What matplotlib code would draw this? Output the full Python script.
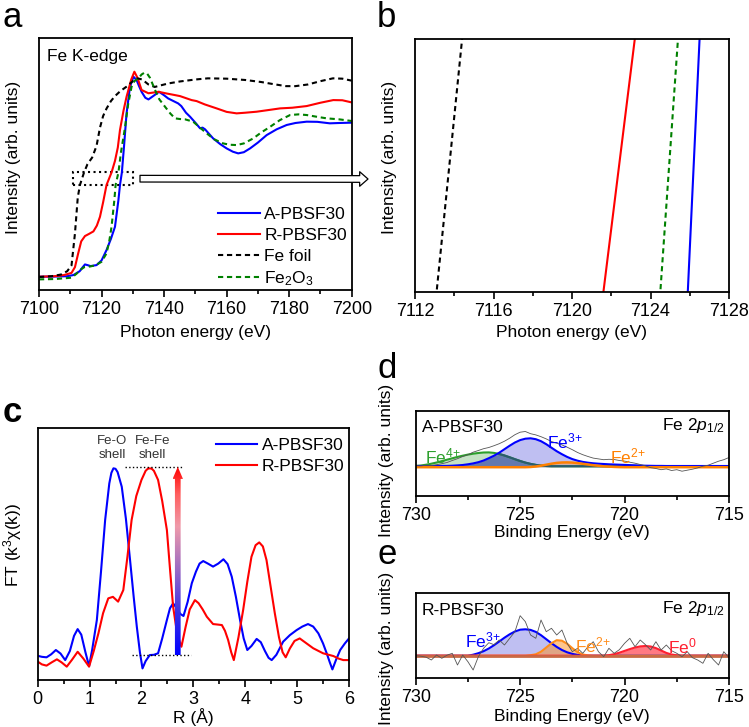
import numpy as np
import matplotlib
matplotlib.use('Agg')
import matplotlib.pyplot as plt
from matplotlib.patches import Rectangle, Polygon
from matplotlib.colors import LinearSegmentedColormap
from matplotlib.ticker import MultipleLocator

plt.rcParams['font.family'] = ['Liberation Sans', 'DejaVu Sans']
plt.rcParams['mathtext.fontset'] = 'custom'
plt.rcParams['mathtext.rm'] = 'Liberation Sans'
plt.rcParams['mathtext.it'] = 'Liberation Sans:italic'
plt.rcParams['mathtext.bf'] = 'Liberation Sans:bold'

# ---- panel a/b : Fe K-edge XANES (normalised) ----
A_e = [7100, 7105, 7109, 7111, 7113, 7114, 7114.7, 7115.5, 7116.5, 7118.4, 7120, 7121.6, 7123, 7124.3, 7125.4,
       7125.9, 7126.5, 7127.2, 7128, 7129.1, 7130.2, 7131.2, 7132, 7132.8, 7134, 7135, 7136.5, 7138.4, 7140, 7141.3,
       7143, 7144.5, 7145.5, 7147, 7148.3, 7150, 7151.5, 7152.3, 7153.1, 7154.5, 7155.7, 7158, 7160, 7162, 7163.7,
       7165.5, 7167.5, 7170, 7172.8, 7176, 7179.2, 7182, 7185.6, 7189, 7193, 7196, 7200]
A_i = [0.002, 0.003, 0.005, 0.012, 0.035, 0.06, 0.076, 0.072, 0.066, 0.072, 0.10, 0.163, 0.23, 0.303, 0.464,
       0.555, 0.63, 0.79, 0.986, 1.146, 1.207, 1.187, 1.15, 1.116, 1.08, 1.07, 1.09, 1.116, 1.095, 1.076,
       1.06, 1.046, 1.03, 0.99, 0.966, 0.93, 0.896, 0.9, 0.89, 0.86, 0.835, 0.80, 0.775, 0.755, 0.745,
       0.752, 0.775, 0.81, 0.855, 0.89, 0.916, 0.928, 0.936, 0.935, 0.926, 0.928, 0.93]

R_e = [7100, 7105, 7108, 7110.4, 7111.5, 7112.5, 7113.5, 7114.7, 7116, 7117.4, 7118.5, 7119.5, 7120.5, 7121.6, 7123.2,
       7124.3, 7125.2, 7125.9, 7127, 7128, 7129.5, 7130.5, 7131.5, 7132.8, 7135, 7138.2, 7141, 7143.5, 7145.1, 7148.8,
       7150.4, 7153, 7156.8, 7160, 7163.2, 7166, 7169.6, 7173, 7177.1, 7181, 7185.6, 7190, 7194.1, 7197, 7200]
R_i = [0.002, 0.005, 0.012, 0.025, 0.06, 0.14, 0.215, 0.247, 0.26, 0.275, 0.31, 0.363, 0.45, 0.555, 0.63,
       0.70, 0.78, 0.886, 1.0, 1.086, 1.19, 1.237, 1.2, 1.127, 1.107, 1.116, 1.105, 1.096, 1.09, 1.066,
       1.06, 1.04, 1.016, 0.995, 0.986, 0.99, 0.996, 1.005, 1.016, 1.02, 1.03, 1.05, 1.066, 1.065, 1.052]

F_e = [7100, 7104, 7107, 7109, 7110.4, 7111.5, 7112.4, 7113.1, 7114.4, 7115.5, 7117, 7118.4, 7119.5, 7120.5, 7121.6,
       7123, 7124.3, 7126, 7128, 7130, 7131.5, 7133, 7135, 7137, 7139, 7141.3, 7145, 7150, 7154, 7160,
       7166, 7171, 7175, 7179, 7182, 7186, 7190, 7194, 7197, 7200]
F_i = [0.0, 0.005, 0.015, 0.035, 0.07, 0.263, 0.48, 0.555, 0.63, 0.68, 0.72, 0.79, 0.90, 0.97, 1.015,
       1.06, 1.09, 1.12, 1.147, 1.18, 1.197, 1.19, 1.16, 1.145, 1.155, 1.166, 1.178, 1.19, 1.197, 1.195,
       1.187, 1.175, 1.162, 1.15, 1.15, 1.16, 1.18, 1.197, 1.195, 1.183]

G_e = [7100, 7105, 7110.4, 7112, 7113.1, 7114.5, 7115.8, 7118, 7120, 7121.6, 7122.5, 7123.2, 7124.1, 7124.5, 7125.4,
       7126.2, 7127.5, 7128.5, 7129.6, 7130.5, 7131.8, 7132.8, 7133.7, 7134.6, 7135.5, 7137.1, 7138.5, 7140.3, 7142, 7143.5,
       7145, 7146.7, 7149.3, 7151.5, 7153.6, 7156, 7158.9, 7161, 7163.2, 7165.5, 7168.5, 7171, 7173.9, 7177, 7180.3,
       7183, 7185.6, 7189, 7192, 7196, 7200]
G_i = [-0.014, -0.012, -0.004, 0.02, 0.042, 0.06, 0.062, 0.07, 0.092, 0.143, 0.22, 0.303, 0.464, 0.555, 0.63,
       0.75, 0.90, 1.04, 1.146, 1.18, 1.197, 1.22, 1.231, 1.225, 1.2, 1.127, 1.07, 1.026, 0.985, 0.956,
       0.952, 0.95, 0.936, 0.90, 0.866, 0.83, 0.805, 0.797, 0.795, 0.805, 0.835, 0.87, 0.905, 0.945, 0.976,
       0.98, 0.976, 0.965, 0.956, 0.95, 0.94]

zoom_e = (7112, 7128)
zoom_i = (0.555, 0.63)

# ---- panel c : FT-EXAFS ----
cR_A = [0.00, 0.08, 0.17, 0.26, 0.35, 0.44, 0.53, 0.62, 0.70, 0.77, 0.84, 0.92, 0.99, 1.05, 1.14, 1.22, 1.30, 1.38,
        1.42, 1.46, 1.50, 1.54, 1.62, 1.70, 1.78, 1.85, 1.91, 1.97, 2.02, 2.08, 2.16, 2.24, 2.32, 2.40, 2.49, 2.55,
        2.61, 2.68, 2.75, 2.81, 2.89, 2.97, 3.05, 3.12, 3.19, 3.28, 3.38, 3.48, 3.58, 3.66, 3.74, 3.82, 3.90, 3.97,
        4.04, 4.12, 4.22, 4.30, 4.38, 4.45, 4.51, 4.60, 4.73, 4.86, 4.99, 5.10, 5.21, 5.31, 5.41, 5.50, 5.57, 5.63,
        5.68, 5.75, 5.83, 5.92, 6.00]
cFT_A = [0.96, 0.92, 0.90, 1.02, 1.19, 1.05, 0.79, 1.15, 1.75, 2.02, 1.80, 1.10, 0.55, 1.20, 2.38, 4.30, 6.35, 7.80,
         8.22, 8.40, 8.38, 8.25, 7.67, 6.40, 4.76, 3.30, 2.12, 1.10, 0.46, 0.75, 0.99, 1.00, 1.06, 1.65, 2.38, 2.85,
         3.04, 2.85, 2.62, 2.54, 3.10, 3.84, 4.30, 4.62, 4.72, 4.62, 4.50, 4.62, 4.79, 4.60, 4.10, 3.30, 2.38, 1.65,
         1.19, 1.35, 1.63, 1.50, 1.15, 0.88, 0.79, 1.00, 1.52, 1.78, 1.98, 2.12, 2.22, 2.12, 1.85, 1.45, 1.06, 0.70,
         0.42, 0.80, 1.19, 1.45, 1.65]
cR_R = [0.00, 0.08, 0.17, 0.27, 0.37, 0.46, 0.56, 0.66, 0.77, 0.88, 0.99, 1.08, 1.17, 1.26, 1.36, 1.45, 1.55, 1.65,
        1.73, 1.81, 1.90, 2.00, 2.08, 2.12, 2.16, 2.20, 2.24, 2.32, 2.40, 2.49, 2.55, 2.61, 2.69, 2.77, 2.85, 2.93,
        3.03, 3.10, 3.18, 3.26, 3.38, 3.47, 3.55, 3.61, 3.67, 3.73, 3.78, 3.87, 3.96, 4.04, 4.12, 4.20, 4.27, 4.34,
        4.41, 4.49, 4.57, 4.65, 4.72, 4.78, 4.86, 4.95, 5.05, 5.15, 5.31, 5.50, 5.70, 5.80, 5.89, 6.00]
cFT_R = [0.73, 0.62, 0.57, 0.70, 0.82, 0.70, 0.53, 0.80, 1.12, 0.85, 0.53, 1.15, 1.85, 2.65, 3.24, 3.30, 3.11, 3.57,
         4.90, 6.35, 7.30, 7.94, 8.30, 8.38, 8.40, 8.38, 8.30, 7.94, 7.10, 5.95, 4.40, 2.91, 1.80, 1.32, 2.10, 2.80,
         3.17, 3.05, 2.80, 2.51, 2.22, 2.20, 2.18, 1.95, 1.59, 1.10, 0.79, 1.70, 2.78, 3.90, 4.89, 5.35, 5.46, 5.30,
         4.76, 3.70, 2.65, 1.70, 1.10, 0.90, 1.25, 1.55, 1.65, 1.50, 1.26, 1.06, 0.95, 0.85, 0.79, 0.79]

# ---- panels d/e : XPS Fe 2p1/2 ----
be_step = 0.25
d_raw = [0.10, 0.08, 0.14, 0.12, 0.20, 0.30, 0.42, 0.62, 0.80, 1.02, 1.20, 1.45, 1.62, 1.80, 1.92, 2.10,
         2.30, 2.55, 2.85, 3.20, 3.45, 3.52, 3.30, 3.18, 3.00, 2.78, 2.52, 2.35, 2.18, 1.95, 1.70, 1.42,
         1.20, 1.02, 0.86, 0.78, 0.70, 0.74, 0.72, 0.62, 0.56, 0.45, 0.35, 0.22, 0.08, -0.10, -0.18, -0.30,
         -0.22, -0.38, -0.30, -0.45, -0.35, -0.25, -0.12, 0.05, 0.15, 0.35, 0.55, 0.70, 0.92]
d_fe3 = [0.07, 0.07, 0.07, 0.07, 0.07, 0.08, 0.08, 0.10, 0.13, 0.17, 0.24, 0.33, 0.45, 0.62, 0.85, 1.10,
         1.40, 1.75, 2.10, 2.42, 2.66, 2.80, 2.84, 2.75, 2.55, 2.25, 1.90, 1.55, 1.25, 0.98, 0.76, 0.60,
         0.48, 0.40, 0.34, 0.30, 0.27, 0.24, 0.22, 0.20, 0.18, 0.16, 0.14, 0.12, 0.10, 0.09, 0.08, 0.08,
         0.07, 0.07, 0.07, 0.07, 0.07, 0.07, 0.07, 0.07, 0.07, 0.07, 0.07, 0.07, 0.07]
d_fe4 = [0.08, 0.12, 0.20, 0.30, 0.42, 0.56, 0.70, 0.84, 0.98, 1.10, 1.21, 1.30, 1.37, 1.42, 1.43, 1.38,
         1.27, 1.12, 0.94, 0.75, 0.57, 0.41, 0.28, 0.18, 0.11, 0.07, 0.05, 0.05, 0.05, 0.05, 0.05, 0.05,
         0.05, 0.05, 0.05, 0.05, 0.05, 0.05, 0.05, 0.05, 0.05, 0.05, 0.05, 0.05, 0.05, 0.05, 0.05, 0.05,
         0.05, 0.05, 0.05, 0.05, 0.05, 0.05, 0.05, 0.05, 0.05, 0.05, 0.05, 0.05, 0.05]
d_fe2 = [-0.05, -0.05, -0.05, -0.05, -0.05, -0.05, -0.05, -0.05, -0.05, -0.05, -0.05, -0.05, -0.05, -0.05, -0.05, -0.05,
         -0.05, -0.05, -0.05, -0.05, -0.05, -0.05, -0.03, 0.02, 0.10, 0.20, 0.30, 0.38, 0.42, 0.43, 0.41, 0.36,
         0.29, 0.22, 0.15, 0.09, 0.04, 0.01, -0.02, -0.04, -0.05, -0.05, -0.05, -0.05, -0.05, -0.05, -0.05, -0.05,
         -0.05, -0.05, -0.05, -0.05, -0.05, -0.05, -0.05, -0.05, -0.05, -0.05, -0.05, -0.05, -0.05]

e_raw = [0.00, -0.05, -0.15, -0.43, 0.07, -0.26, 0.05, 0.24, -0.93, 0.07, -0.60, -1.43, -0.10, 0.74, 1.30, 1.10,
         1.57, 1.07, 1.74, 2.40, 4.00, 3.40, 2.07, 1.74, 3.57, 2.40, 2.74, 2.07, 2.57, 1.24, 0.40, 0.74,
         0.24, 0.90, 1.40, 0.40, -0.10, 0.74, 0.24, 0.60, 1.24, 1.74, 0.90, 1.57, 1.10, 0.57, 1.40, 0.57,
         1.07, 0.50, 0.24, -0.10, 0.40, -0.20, -0.43, -0.76, 0.24, -0.40, -0.93, 0.40, -0.20]
e_fe3 = [0, 0, 0, 0, 0, 0, 0, 0, 0, 0, 0, 0.10, 0.25, 0.45, 0.72, 1.05,
         1.42, 1.80, 2.14, 2.42, 2.60, 2.64, 2.58, 2.38, 2.05, 1.65, 1.25, 0.88, 0.57, 0.34, 0.18, 0.08,
         0.02, 0, 0, 0, 0, 0, 0, 0, 0, 0, 0, 0, 0, 0, 0, 0,
         0, 0, 0, 0, 0, 0, 0, 0, 0, 0, 0, 0, 0]
e_fe2 = [0, 0, 0, 0, 0, 0, 0, 0, 0, 0, 0, 0, 0, 0, 0, 0,
         0, 0, 0, 0, 0, 0, 0.05, 0.14, 0.40, 0.82, 1.25, 1.55, 1.50, 1.20, 0.75, 0.35,
         0.12, 0.03, 0, 0, 0, 0, 0, 0, 0, 0, 0, 0, 0, 0, 0, 0,
         0, 0, 0, 0, 0, 0, 0, 0, 0, 0, 0, 0, 0]
e_fe0 = [0, 0, 0, 0, 0, 0, 0, 0, 0, 0, 0, 0, 0, 0, 0, 0,
         0, 0, 0, 0, 0, 0, 0, 0, 0, 0, 0, 0, 0, 0, 0, 0,
         0, 0, 0, 0, 0, 0.05, 0.15, 0.30, 0.48, 0.66, 0.82, 0.93, 0.97, 0.92, 0.76, 0.52,
         0.28, 0.12, 0.04, 0, 0, 0, 0, 0, 0, 0, 0, 0, 0]

W, H = 749, 727
fig = plt.figure(figsize=(W / 100, H / 100), dpi=100)


def add_ax(l, t, r, b):
    return fig.add_axes([l / W, 1 - b / H, (r - l) / W, (b - t) / H])


def style(ax, major, minor):
    for s in ax.spines.values():
        s.set_linewidth(1.3)
    ax.set_yticks([])
    ax.xaxis.set_major_locator(MultipleLocator(major))
    ax.xaxis.set_minor_locator(MultipleLocator(minor))
    ax.tick_params(axis='x', which='major', direction='out', length=5, width=1.2, labelsize=13, pad=3)
    ax.tick_params(axis='x', which='minor', direction='out', length=3, width=1.2)


def label(x, y, s, rot=0, size=12.5):
    fig.text(x / W, 1 - y / H, s, rotation=rot, ha='center', va='center', fontsize=size)


dash = (0, (2.5, 1.8))
xanes = [(A_e, A_i, '#0000ff', '-', 'A-PBSF30'),
         (R_e, R_i, '#ff0000', '-', 'R-PBSF30'),
         (F_e, F_i, 'black', dash, 'Fe foil'),
         (G_e, G_i, '#008000', dash, 'Fe$_2$O$_3$')]

# panel a
ax_a = add_ax(39, 38, 351.7, 289.5)
for xe, yi, c, ls, lab in xanes:
    ax_a.plot(xe, yi, color=c, ls=ls, lw=1.5, label=lab)
ax_a.set_xlim(7100, 7200)
ax_a.set_ylim(-0.075, 1.44)
style(ax_a, 20, 10)
ax_a.text(0.025, 0.925, 'Fe K-edge', transform=ax_a.transAxes, fontsize=12.5, va='center')
ax_a.legend(loc='lower right', bbox_to_anchor=(0.985, 0.005), frameon=False, fontsize=12.5,
            handlelength=2.4, handletextpad=0.25, labelspacing=0.33, borderpad=0, borderaxespad=0)
ax_a.add_patch(Rectangle((7111, zoom_i[0]), 19, zoom_i[1] - zoom_i[0], fill=False, ls=':', lw=1.5, ec='black'))
ax_a.annotate('', xy=(368 / W, 1 - 179 / H), xycoords='figure fraction',
              xytext=(7132.3, np.mean(zoom_i)), textcoords='data',
              arrowprops=dict(arrowstyle='simple,head_length=0.4,head_width=0.7,tail_width=0.32',
                              fc='white', ec='black', lw=0.9, shrinkA=0, shrinkB=0, mutation_scale=15),
              annotation_clip=False)

# panel b (zoom of the box)
ax_b = add_ax(415, 39, 729, 292)
for xe, yi, c, ls, lab in xanes:
    ax_b.plot(xe, yi, color=c, ls=ls, lw=1.5)
ax_b.set_xlim(*zoom_e)
ax_b.set_ylim(*zoom_i)
style(ax_b, 4, 2)

# panel c
ax_c = add_ax(37.7, 428, 349, 680)
ax_c.plot(cR_A, cFT_A, color='#0000ff', lw=1.5, label='A-PBSF30')
ax_c.plot(cR_R, cFT_R, color='#ff0000', lw=1.5, label='R-PBSF30')
top = max(cFT_R) + 0.06
bot = 0.99
ax_c.plot([1.68, 2.81], [top, top], ls=':', color='black', lw=1)
ax_c.plot([1.82, 2.95], [bot, bot], ls=':', color='black', lw=1)
x0, hw, hh, hl = 2.70, 0.055, 0.10, 0.48
arrow = Polygon([(x0 - hw, bot), (x0 + hw, bot), (x0 + hw, top - hl), (x0 + hh, top - hl), (x0, top),
                 (x0 - hh, top - hl), (x0 - hw, top - hl)], closed=True, fc='none', ec='none')
ax_c.add_patch(arrow)
cmap = LinearSegmentedColormap.from_list('arr', [(0, '#0000ff'), (0.22, '#3a30e8'), (0.45, '#9a6ac4'),
                                                  (0.68, '#ef9aaa'), (0.85, '#ff6060'), (1, '#ff0000')])
grad = np.linspace(0, 1, 256).reshape(-1, 1)
im = ax_c.imshow(grad, cmap=cmap, extent=(x0 - hh, x0 + hh, bot, top), origin='lower', aspect='auto', zorder=5)
im.set_clip_path(arrow)
ax_c.set_xlim(0, 6)
ax_c.set_ylim(0, 10)
style(ax_c, 1, 0.5)
ax_c.text(1.44, 9.2, 'Fe-O\nshell', ha='center', va='center', fontsize=9.5, color='#333333', linespacing=1.15)
ax_c.text(2.21, 9.2, 'Fe-Fe\nshell', ha='center', va='center', fontsize=9.5, color='#333333', linespacing=1.15)
ax_c.legend(loc='upper right', bbox_to_anchor=(0.985, 0.96), frameon=False, fontsize=12.5,
            handlelength=2.4, handletextpad=0.25, labelspacing=0.3, borderpad=0, borderaxespad=0)

# panel d
be_d = 730 - be_step * np.arange(len(d_raw))
ax_d = add_ax(415.7, 410.7, 729, 496)
ax_d.fill_between(be_d, 0, d_fe3, color='#6060e0', alpha=0.4, lw=0)
ax_d.fill_between(be_d, 0, d_fe4, color='#40a040', alpha=0.3, lw=0)
ov = np.minimum(d_fe3, d_fe4)
ax_d.fill_between(be_d, 0, ov, color='#5b6fae', alpha=0.85, lw=0)
ax_d.fill_between(be_d, 0, d_fe2, color='#ff8c1a', alpha=0.35, lw=0)
ax_d.plot(be_d, d_fe4, color='#2ca02c', lw=1.5)
ax_d.plot(be_d, np.ma.masked_where(np.array(d_fe4) > np.array(d_fe3), d_fe4), color='#2a5a70', lw=1.5)
ax_d.plot(be_d, d_fe3, color='#0000ff', lw=1.5)
ax_d.plot(be_d, d_fe2, color='#ff8000', lw=1.8)
ax_d.plot(be_d, d_raw, color='#555555', lw=0.6)
ax_d.set_xlim(730, 715)
ax_d.set_ylim(-2.93, 5.6)
style(ax_d, 5, 2.5)
ax_d.text(0.019, 0.75, 'A-PBSF30', transform=ax_d.transAxes, fontsize=12.5, va='baseline')
ax_d.text(0.987, 0.77, r'Fe 2$p_{\mathrm{1/2}}$', transform=ax_d.transAxes, fontsize=12.5, va='baseline', ha='right')
ax_d.text(729.55, 0.37, 'Fe$^{4{+}}$', color='#2ca02c', fontsize=12.5, va='baseline')
ax_d.text(723.73, 1.87, 'Fe$^{3{+}}$', color='#0000ff', fontsize=12.5, va='baseline')
ax_d.text(720.7, 0.37, 'Fe$^{2{+}}$', color='#ff8000', fontsize=12.5, va='baseline')

# panel e
be_e = 730 - be_step * np.arange(len(e_raw))
ax_e = add_ax(415.7, 593, 729, 678)
ax_e.fill_between(be_e, 0, e_fe3, color='#6060e0', alpha=0.4, lw=0)
ax_e.fill_between(be_e, 0, e_fe2, color='#ff8c1a', alpha=0.5, lw=0)
ax_e.fill_between(be_e, 0, e_fe0, color='#ff2030', alpha=0.6, lw=0)
ax_e.plot(be_e, e_fe3, color='#0000ff', lw=1.5)
ax_e.plot(be_e, e_fe2, color='#ff8c1a', lw=1.5)
ax_e.plot(be_e, e_fe0, color='#ff2030', lw=1.5)
ax_e.plot(be_e, np.zeros(len(be_e)), color='#c96a45', lw=2)
ax_e.plot(be_e, e_raw, color='#555555', lw=0.6)
ax_e.set_xlim(730, 715)
ax_e.set_ylim(-2.23, 6.27)
style(ax_e, 5, 2.5)
ax_e.text(0.019, 0.74, 'R-PBSF30', transform=ax_e.transAxes, fontsize=12.5, va='baseline')
ax_e.text(0.987, 0.76, r'Fe 2$p_{\mathrm{1/2}}$', transform=ax_e.transAxes, fontsize=12.5, va='baseline', ha='right')
ax_e.text(727.64, 0.87, 'Fe$^{3{+}}$', color='#0000ff', fontsize=12.5, va='baseline')
ax_e.text(722.38, 0.37, 'Fe$^{2{+}}$', color='#ff8c1a', fontsize=12.5, va='baseline')
ax_e.text(717.93, 0.27, 'Fe$^{0}$', color='#ff2030', fontsize=12.5, va='baseline')

# axis labels
label(13.5, 157, 'Intensity (arb. units)', rot=90)
label(195, 333, 'Photon energy (eV)')
label(389.5, 157.5, 'Intensity (arb. units)', rot=90)
label(572, 333, 'Photon energy (eV)')
label(12.5, 545, r'FT (k$^{3}$χ(k))', rot=90)
label(193, 717, 'R (Å)')
label(386.5, 460, 'Intensity (arb. units)', rot=90)
label(572, 532, 'Binding Energy (eV)')
label(386.5, 648, 'Intensity (arb. units)', rot=90)
label(572, 717, 'Binding Energy (eV)')

# panel letters
for s, x, y, wt in [('a', 3, 27, 'normal'), ('b', 377, 27, 'normal'), ('c', 3, 422, 'bold'),
                    ('d', 377, 378, 'normal'), ('e', 377, 564, 'normal')]:
    fig.text(x / W, 1 - y / H, s, fontsize=25, va='baseline', ha='left', fontweight=wt)

fig.savefig('out.png', dpi=100)
